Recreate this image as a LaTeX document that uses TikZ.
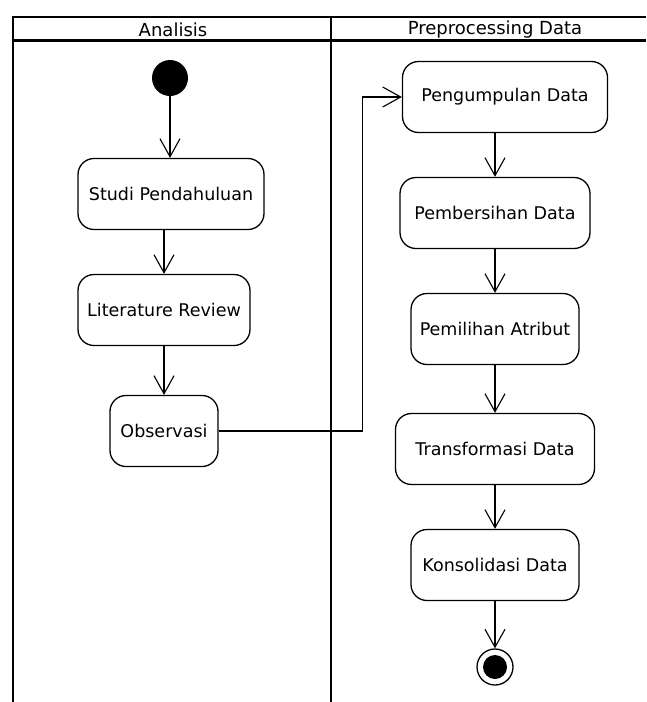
\documentclass[tikz,border=0pt]{standalone}
\usepackage{fontspec}
\setmainfont{DejaVu Sans}
\usetikzlibrary{arrows.meta,positioning}

\begin{document}
\begin{tikzpicture}[
    x=1pt, y=-1pt,
    node distance=116pt,
    activity/.style={rectangle, rounded corners=16pt, minimum height=71pt,
                     text centered, draw=black, line width=1.3pt,
                     font=\fontsize{17.5}{20}\selectfont},
    header/.style={font=\fontsize{18}{20}\selectfont},
    initial/.style={circle, fill=black, minimum size=36pt, inner sep=0pt},
    final/.style={circle, draw=black, line width=1.3pt, minimum size=36pt, inner sep=0pt,
                  path picture={\fill (path picture bounding box.center) circle (12pt);}},
    lane/.style={line width=2pt},
    arrow/.style={line width=1.3pt,-{Straight Barb[length=18pt,width=20pt,line width=1.1pt]}}
]
    \useasboundingbox (0,0) rectangle (646,702);

    % Swimlanes
    \draw [lane] (13,702) -- (13,17) -- (646,17);
    \draw [lane, line width=3pt] (13,40) -- (646,40);
    \draw [lane, line width=1.6pt] (331,17) -- (331,702);
    \node (hdrA) [header] at (173,29.5) {Analisis};
    \node (hdrB) [header] at (495,29.5) {Preprocessing Data};

    % Nodes
    \node (start) [initial] at (170,78) {};
    \node (studi) [activity, minimum width=186pt, below of=start, xshift=1pt] {Studi Pendahuluan};
    \node (lit) [activity, minimum width=172pt, below of=studi, xshift=-7pt] {Literature Review};
    \node (obs) [activity, minimum width=108pt, below of=lit, yshift=-5pt] {Observasi};

    \node (peng) [activity, minimum width=205pt] at (505,97) {Pengumpulan Data};
    \node (pemb) [activity, minimum width=190pt, below of=peng, xshift=-10pt] {Pembersihan Data};
    \node (pemil) [activity, minimum width=168pt, below of=pemb] {Pemilihan Atribut};
    \node (trans) [activity, minimum width=199pt, below of=pemil, yshift=-4pt] {Transformasi Data};
    \node (kons) [activity, minimum width=168pt, below of=trans] {Konsolidasi Data};
    \node (stop) [final, below of=kons, yshift=14pt] {};

    % Arrows
    \draw [arrow] (start) -- (studi.north -| start);
    \draw [arrow] (lit.north |- studi.south) -- (lit.north);
    \draw [arrow] (lit.south -| obs) -- (obs.north);
    \draw [arrow] (obs.east) -- ++(144pt,0) |- (peng.west);
    \draw [arrow] (pemb.north |- peng.south) -- (pemb.north);
    \draw [arrow] (pemb) -- (pemil);
    \draw [arrow] (pemil) -- (trans);
    \draw [arrow] (trans) -- (kons);
    \draw [arrow] (kons) -- (stop);

\end{tikzpicture}
\end{document}
